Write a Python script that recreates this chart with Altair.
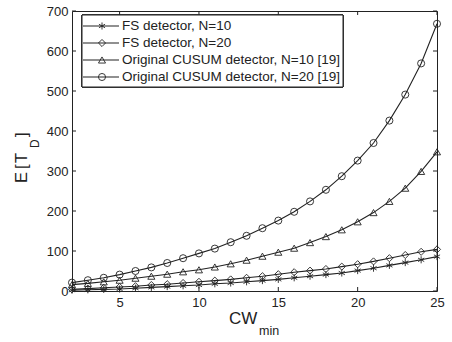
import altair as alt
import pandas as pd

cw = list(range(2, 26))
names = ["FS detector, N=10", "FS detector, N=20",
         "Original CUSUM detector, N=10 [19]", "Original CUSUM detector, N=20 [19]"]
fs10 = [2, 3, 4, 5, 7, 9, 11, 13, 15, 18, 20, 23, 26, 29, 33, 37, 41, 45, 51, 57, 64, 71, 78, 86]
fs20 = [4, 6, 8, 10, 12, 15, 17, 20, 23, 26, 29, 33, 37, 42, 47, 51, 55, 61, 67, 74, 82, 90, 98, 104]
cu10 = [16, 19, 23, 27, 32, 37, 42, 48, 53, 60, 68, 77, 87, 97, 107, 121, 136, 153, 173, 196, 224, 257, 299, 348]
cu20 = [21, 27, 33, 41, 50, 59, 70, 82, 94, 106, 122, 138, 157, 176, 198, 224, 253, 287, 326, 370, 426, 491, 569, 668]
xticks = [5, 10, 15, 20, 25]
yticks = [0, 100, 200, 300, 400, 500, 600, 700]

rows = []
for name, vals in zip(names, [fs10, fs20, cu10, cu20]):
    for x, v in zip(cw, vals):
        rows.append({"series": name, "cw": x, "v": v})
df = pd.DataFrame(rows)

ASTER = "M0,-1L0,1M-0.87,-0.5L0.87,0.5M-0.87,0.5L0.87,-0.5"
shapes = [ASTER, "diamond", "triangle-up", "circle"]
INK = "#222222"
FONT = "Liberation Sans"

xs = alt.Scale(domain=[2, 25], nice=False, zero=False)
ys = alt.Scale(domain=[0, 700], nice=False)
xax = alt.Axis(values=xticks, ticks=False, domain=False, grid=False,
               labelFont=FONT, labelFontSize=13, labelColor=INK,
               labelPadding=5, labelOverlap=False, labelFlush=False, title=None)
yax = alt.Axis(values=yticks, ticks=False, domain=False, grid=False,
               labelFont=FONT, labelFontSize=13, labelColor=INK,
               labelPadding=4, labelOverlap=False, labelFlush=False, title=None)

base = alt.Chart(df)
lines = base.mark_line(color=INK, strokeWidth=1.1).encode(
    x=alt.X("cw:Q", scale=xs, axis=xax),
    y=alt.Y("v:Q", scale=ys, axis=yax),
    detail="series:N",
)
pts = base.mark_point(filled=False, color=INK, strokeWidth=0.9, size=50, opacity=1).encode(
    x=alt.X("cw:Q", scale=xs, axis=xax), y=alt.Y("v:Q", scale=ys, axis=yax),
    shape=alt.Shape("series:N", scale=alt.Scale(domain=names, range=shapes), legend=None),
)

xt = pd.DataFrame({"t": xticks})
yt = pd.DataFrame({"t": yticks})
tb = alt.Chart(xt).mark_rule(color=INK, strokeWidth=1).encode(
    x=alt.X("t:Q", scale=xs, axis=xax), y=alt.value(280), y2=alt.value(276))
tt = alt.Chart(xt).mark_rule(color=INK, strokeWidth=1).encode(
    x=alt.X("t:Q", scale=xs, axis=xax), y=alt.value(0), y2=alt.value(4))
tl = alt.Chart(yt).mark_rule(color=INK, strokeWidth=1).encode(
    y=alt.Y("t:Q", scale=ys, axis=yax), x=alt.value(0), x2=alt.value(4))
tr = alt.Chart(yt).mark_rule(color=INK, strokeWidth=1).encode(
    y=alt.Y("t:Q", scale=ys, axis=yax), x=alt.value(361), x2=alt.value(365))

leg = pd.DataFrame({"series": names, "i": [0, 1, 2, 3]})
lbase = alt.Chart(leg).transform_calculate(ly="15 + 17*datum.i")
lbox = alt.Chart(leg).mark_rect(fill="white", stroke=INK, strokeWidth=1).encode(
    x=alt.value(10), x2=alt.value(271), y=alt.value(4), y2=alt.value(76))
lrule = lbase.mark_rule(color=INK, strokeWidth=1.1).encode(
    x=alt.value(11), x2=alt.value(47), y=alt.Y("ly:Q", scale=None))
lpt = lbase.mark_point(filled=False, color=INK, strokeWidth=0.9, size=50, opacity=1).encode(
    x=alt.value(30), y=alt.Y("ly:Q", scale=None),
    shape=alt.Shape("series:N", scale=alt.Scale(domain=names, range=shapes), legend=None))
ltxt = lbase.mark_text(align="left", baseline="middle", font=FONT, fontSize=13.5, color=INK).encode(
    x=alt.value(50), y=alt.Y("ly:Q", scale=None), text="series:N")

title_df = pd.DataFrame({"a": [1]})


def txt(s, x, y, size, angle=0):
    kw = dict(align="left", baseline="alphabetic", font=FONT, fontSize=size, color=INK)
    if angle:
        kw["angle"] = angle
    return alt.Chart(title_df).mark_text(**kw).encode(x=alt.value(x), y=alt.value(y), text=alt.value(s))


titles = [
    txt("CW", 157, 313, 17),
    txt("min", 187, 324, 12.5),
    txt("E", -45, 172, 16.5, 270),
    txt("[", -45, 158, 16.5, 270),
    txt("T", -45, 152, 16.5, 270),
    txt("D", -33, 137, 12, 270),
    txt("]", -45, 126, 16.5, 270),
]

chart = alt.layer(lines, pts, tb, tt, tl, tr, lbox, lrule, lpt, ltxt, *titles).properties(
    width=365, height=280, autosize="none",
    padding={"left": 72, "top": 11, "right": 15, "bottom": 51},
    background="white",
).configure_view(stroke=INK, strokeWidth=1)

chart.save("out.html", embed_options={"renderer": "svg", "actions": False})
